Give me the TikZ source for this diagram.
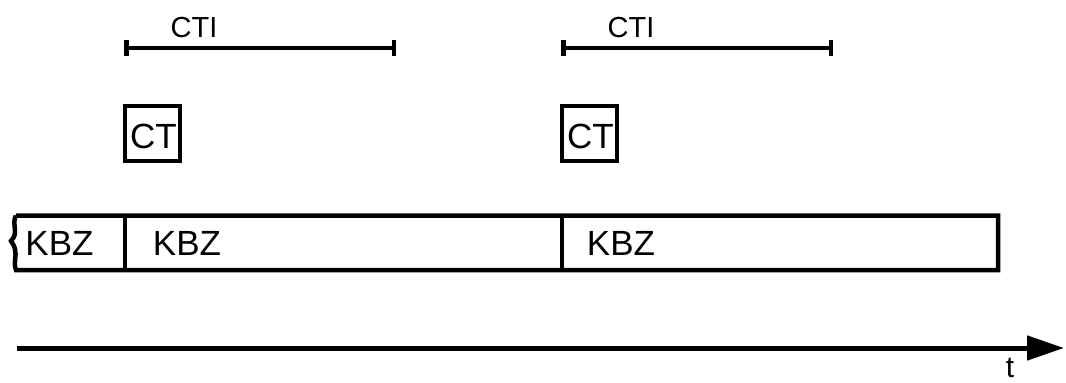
\documentclass[tikz,border=0pt]{standalone}
\usepackage{fontspec}
\setmainfont{Liberation Sans}
\usetikzlibrary{arrows.meta}
\begin{document}
\begin{tikzpicture}[x=1pt,y=-1pt,
  lbl/.style={inner sep=0pt,anchor=base,font=\fontsize{35}{35}\selectfont},
  ctilbl/.style={inner sep=0pt,anchor=base,font=\fontsize{29}{29}\selectfont},
  ctbox/.style={draw,line width=4.5pt,minimum width=55pt,minimum height=55pt,inner sep=0pt},
  thick4/.style={line width=4.5pt},
  span/.style={line width=4.5pt,{Bar[width=16pt]}-{Bar[width=16pt]}}]
\useasboundingbox (0,0) rectangle (1066,383);
% bar
\coordinate (bl) at (16,215.5);
\coordinate (br) at (998,215.5);
\coordinate (bbr) at (998,270);
\coordinate (bbl) at (16,270);
\draw[thick4,line join=miter] (bl) -- (br) -- (bbr) -- (bbl)
  .. controls (13,262) and (17,256) .. (15,249)
  .. controls (14,245) and (12,243) .. (11,241)
  .. controls (13,239) and (15,236) .. (15,232)
  .. controls (15,226) and (13,220) .. (bl);
\coordinate (d1t) at (125,215.5); \coordinate (d1b) at (125,270);
\coordinate (d2t) at (562,215.5); \coordinate (d2b) at (562,270);
\draw[thick4] (d1t) -- (d1b);
\draw[thick4] (d2t) -- (d2b);
\node[lbl] (k1) at (59.5,255) {KBZ};
\node[lbl] (k2) at (187,255) {KBZ};
\node[lbl] (k3) at (621,255) {KBZ};
% CT boxes
\node[ctbox] (ct1) at (152.5,133.5) {};
\node[lbl] at (153.5,148) {CT};
\node[ctbox] (ct2) at (589.5,133.5) {};
\node[lbl] at (590.5,148) {CT};
% CTI spans
\coordinate (s1a) at (124,48); \coordinate (s1b) at (396,48);
\coordinate (s2a) at (561,48); \coordinate (s2b) at (833,48);
\draw[span] (s1a) -- (s1b);
\draw[span] (s2a) -- (s2b);
\node[ctilbl] (cti1) at (194,37) {CTI};
\node[ctilbl] (cti2) at (631,37) {CTI};
% time axis
\coordinate (ta) at (17,348);
\coordinate (tb) at (1064,348);
\draw[line width=5pt,-{Triangle[length=37pt,width=24pt]}] (ta) -- (tb);
\node[inner sep=0pt,anchor=base,font=\fontsize{30}{30}\selectfont] (t) at (1010,377) {t};
\end{tikzpicture}
\end{document}
